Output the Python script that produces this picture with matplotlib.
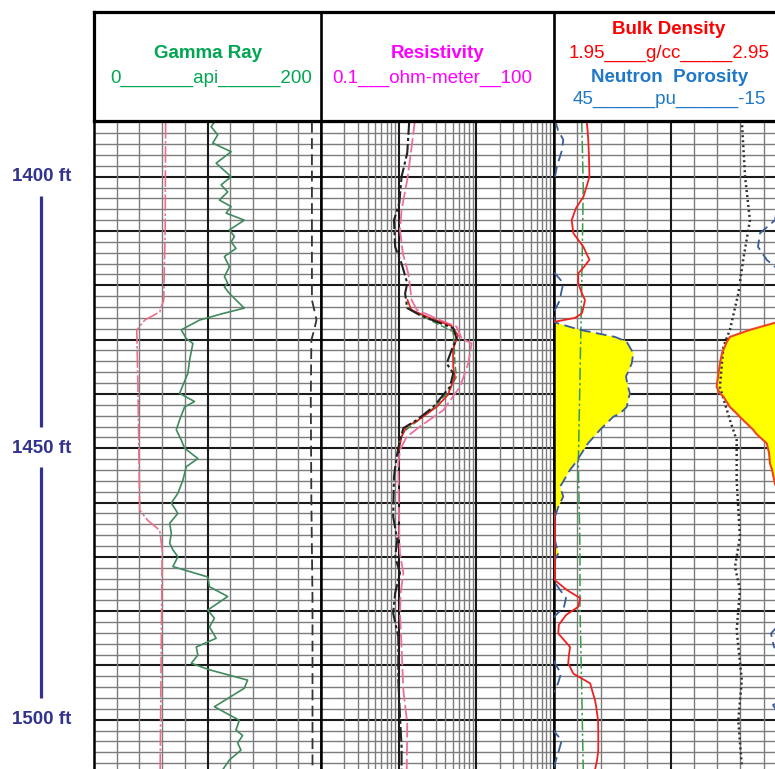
import numpy as np
import matplotlib.pyplot as plt

plt.rcParams['font.family'] = ['Liberation Sans', 'DejaVu Sans']

# ---------------- track 1: gamma ray, SP, caliper ----------------
gr_depth = [1389.9, 1390.8, 1392.3, 1393.8, 1395.4, 1397.5, 1400.0, 1401.5, 1402.8, 1404.3,
            1405.5, 1406.7, 1408.0, 1409.8, 1411.0, 1412.0, 1413.2, 1414.7, 1416.6, 1418.4,
            1419.6, 1420.3, 1421.5, 1424.2, 1425.2, 1426.4, 1428.2, 1429.8, 1430.7, 1433.8,
            1436.2, 1439.9, 1441.4, 1442.4, 1444.8, 1446.6, 1448.5, 1450.0, 1451.9, 1453.4,
            1455.9, 1458.3, 1460.1, 1462.0, 1463.8, 1465.7, 1467.5, 1468.7, 1470.0, 1471.8,
            1473.7, 1475.5, 1477.3, 1479.8, 1481.3, 1482.9, 1485.0, 1486.6, 1488.1, 1489.6,
            1490.8, 1492.7, 1494.2, 1497.6, 1500.1, 1501.9, 1502.9, 1504.3, 1505.6, 1507.4,
            1509.2]
gr_api = [106.1, 103.2, 109.0, 104.6, 120.8, 107.6, 120.8, 112.0, 117.8, 110.5,
          120.8, 116.4, 132.4, 119.3, 123.7, 120.8, 125.1, 114.9, 119.3, 114.9,
          117.8, 114.9, 119.3, 132.4, 113.4, 93.0, 76.9, 81.3, 87.1, 84.2,
          82.7, 75.4, 88.6, 79.8, 75.4, 72.5, 76.9, 79.8, 91.5, 81.3,
          78.3, 73.9, 68.1, 73.9, 66.7, 68.1, 66.7, 69.5, 73.9, 69.5,
          100.2, 101.7, 117.8, 100.2, 106.1, 101.7, 107.6, 90.1, 91.5, 85.7,
          101.7, 135.3, 132.4, 106.1, 128.0, 125.1, 130.9, 126.6, 129.5, 119.3,
          113.4]

sp_depth = [1389.9, 1409.8, 1422.7, 1424.9, 1426.4, 1428.2, 1441.1, 1461.4, 1463.3, 1465.1,
            1468.8, 1487.2, 1509.1]
sp_val = [63.1, 62.7, 61.4, 57.9, 44.7, 37.7, 38.9, 40.3, 47.4, 57.9,
          60.1, 59.2, 58.3]

cal_depth = [1389.9, 1422.7, 1424.9, 1426.4, 1428.2, 1430.1, 1441.1, 1459.5, 1477.9, 1509.1]
cal_val = [192.0, 192.0, 194.5, 196.0, 194.0, 191.5, 191.0, 191.5, 192.5, 192.5]

# ---------------- track 2: resistivity (ohm-m) ----------------
rdeep_depth = [1389.6, 1395.6, 1400.0, 1404.8, 1408.0, 1412.9, 1416.0, 1419.6, 1421.5, 1424.2,
               1425.5, 1426.7, 1427.9, 1429.8, 1431.9, 1434.4, 1436.2, 1438.7, 1442.4, 1444.8,
               1446.3, 1448.5, 1451.6, 1455.2, 1462.6, 1466.9, 1470.0, 1473.0, 1476.7, 1480.4,
               1484.7, 1492.7, 1499.4, 1505.0, 1509.2]
rdeep = [1.37, 1.29, 1.09, 1.02, 0.87, 0.90, 1.09, 1.29, 1.21, 1.29,
         1.88, 3.08, 5.04, 5.57, 4.81, 4.15, 5.04, 4.57, 2.79, 1.71,
         1.15, 1.04, 0.94, 0.87, 0.85, 0.96, 0.90, 1.04, 0.90, 0.85,
         0.99, 0.99, 1.04, 1.09, 1.09]

rshallow_depth = [1389.6, 1394.5, 1400.6, 1406.1, 1409.8, 1414.1, 1417.8, 1422.7, 1424.5, 1426.4,
                  1427.6, 1429.8, 1430.7, 1434.4, 1438.7, 1443.0, 1446.0, 1447.9, 1450.3, 1452.8,
                  1466.9, 1469.4, 1473.0, 1476.7, 1480.4, 1486.6, 1494.6, 1500.7, 1509.2]
rshallow = [1.62, 1.47, 1.29, 1.09, 1.04, 1.13, 1.33, 1.47, 1.71, 3.40,
            5.57, 6.47, 8.70, 7.87, 6.15, 3.75, 1.88, 1.27, 1.04, 0.99,
            1.02, 1.04, 1.15, 1.06, 1.04, 1.09, 1.15, 1.29, 1.27]

rmed_depth = [1422.7, 1424.5, 1426.0, 1427.5, 1429.2, 1431.9, 1435.0, 1436.8, 1440.2, 1442.4,
              1444.8, 1446.0, 1447.9, 1450.5]
rmed = [1.30, 1.45, 2.5, 4.8, 5.8, 5.0, 5.04, 5.30, 4.3, 3.08,
        1.8, 1.27, 1.09, 1.0]

rxo_depth = [1424.0, 1426.5, 1428.5, 1431.0, 1434.4, 1436.8, 1439.5, 1442.4, 1445.0, 1447.0, 1449.0]
rxo = [1.28, 2.6, 5.0, 5.2, 5.3, 5.57, 4.4, 2.9, 1.75, 1.15, 1.0]

# ---------------- track 3: density / neutron ----------------
nd_depth = [1389.6, 1391.4, 1393.2, 1395.1, 1396.3, 1398.0, 1400.0, 1401.5, 1403.7, 1405.8,
            1408.0, 1410.4, 1412.9, 1415.3, 1416.6, 1417.8, 1419.6, 1421.5, 1422.7, 1424.5,
            1425.2, 1426.0, 1426.7, 1426.9, 1428.2, 1429.5, 1430.4, 1432.5, 1434.4, 1436.8,
            1438.7, 1439.9, 1440.5, 1442.4, 1443.6, 1444.2, 1446.6, 1447.3, 1449.1, 1450.9,
            1452.8, 1454.0, 1456.5, 1457.1, 1458.9, 1460.8, 1462.6, 1465.0, 1467.8, 1469.3,
            1470.9, 1474.3, 1476.1, 1477.6, 1479.2, 1480.7, 1482.5, 1484.1, 1486.6, 1488.1,
            1489.6, 1491.5, 1493.3, 1494.5, 1496.4, 1497.3, 1500.1, 1501.9, 1503.8, 1505.6,
            1507.4, 1509.2]
rhob = [2.090, 2.094, 2.097, 2.099, 2.100, 2.101, 2.102, 2.092, 2.076, 2.044,
        2.026, 2.033, 2.076, 2.102, 2.079, 2.054, 2.054, 2.070, 2.083, 2.074,
        2.069, 2.040, 1.954, 1.898, 1.791, 1.705, 1.692, 1.671, 1.662, 1.654,
        1.648, 1.662, 1.677, 1.705, 1.734, 1.747, 1.805, 1.817, 1.863, 1.873,
        1.877, 1.886, 1.898, 1.903, 1.924, 1.946, 1.952, 1.954, 1.952, 1.950,
        1.954, 1.954, 2.005, 2.062, 2.054, 2.002, 1.971, 1.968, 2.019, 2.014,
        2.011, 2.033, 2.105, 2.113, 2.126, 2.130, 2.139, 2.140, 2.140, 2.140,
        2.135, 2.126]
nphi = [44.74, 43.97, 42.61, 42.94, 43.45, 44.23, 44.74, 46.03, 47.06, 47.58,
        48.09, 51.95, 52.47, 50.23, 48.09, 44.74, 42.61, 43.20, 43.45, 44.74,
        44.87, 45.00, 45.00, 44.48, 38.30, 29.29, 26.28, 24.58, 24.99, 26.46,
        25.94, 25.43, 25.69, 26.28, 28.00, 29.73, 33.15, 34.00, 36.24, 37.87,
        39.59, 40.88, 42.94, 43.45, 42.61, 43.89, 44.74, 45.26, 44.48, 43.84,
        45.00, 45.18, 43.45, 41.91, 42.42, 44.48, 47.06, 49.12, 48.35, 45.26,
        44.74, 43.20, 43.97, 44.74, 46.29, 48.61, 46.03, 45.26, 43.02, 43.71,
        44.48, 45.26]

pe_depth = [1389.6, 1401.9, 1420.3, 1430.1, 1452.8, 1468.8, 1479.2, 1494.6, 1509.2]
pe = [2.38, 2.51, 2.38, 2.29, 2.09, 2.23, 2.23, 2.38, 2.51]

dt_depth = [1389.6, 1400.0, 1408.0, 1415.3, 1421.5, 1428.2, 1431.3, 1438.7, 1444.8, 1448.5,
            1455.9, 1466.3, 1471.8, 1476.1, 1483.5, 1492.7, 1500.1, 1508.6]
dt = [59.4, 58.0, 55.9, 58.8, 60.9, 64.5, 67.3, 68.8, 64.5, 61.6,
      61.6, 60.2, 62.3, 60.2, 61.6, 59.4, 60.9, 59.4]

depth_marks = [1400, 1450, 1500]
top_depth, bottom_depth = 1389.74, 1509.07

W, H = 775, 769
fig = plt.figure(figsize=(W / 100, H / 100), dpi=100)
fig.patch.set_facecolor('white')


def px_axes(x0, y0, x1, y1):
    return fig.add_axes([x0 / W, 1 - y1 / H, (x1 - x0) / W, (y1 - y0) / H])


def frac(v, lo, hi):
    return (np.asarray(v, dtype=float) - lo) / (hi - lo)


THIN = dict(color='#7c7c7c', lw=1.0, zorder=1)
THICK = dict(color='#1a1a1a', lw=1.5, zorder=1)


def depth_grid(ax):
    for d in np.arange(1390, 1510, 2):
        ax.axhline(d, **(THICK if d % 10 == 0 else THIN))


def style_track(ax):
    ax.set_ylim(bottom_depth, top_depth)
    ax.set_xticks([])
    ax.set_yticks([])
    for s in ('top', 'bottom'):
        ax.spines[s].set_visible(False)
    for s in ('left', 'right'):
        ax.spines[s].set_linewidth(1.8)
    depth_grid(ax)


# track 1
ax1 = px_axes(94, 121, 321, 769)
ax1.set_xlim(0, 200)
style_track(ax1)
for i, x in enumerate(np.linspace(0, 200, 11)[1:-1]):
    ax1.axvline(x, **(THICK if i == 4 else THIN))
ax1.plot(sp_val, sp_depth, color='#e8708a', lw=1.2, ls=(0, (10, 1.5, 1.5, 1.5)), zorder=3)
ax1.plot(gr_api, gr_depth, color='#3f8a5e', lw=1.2, zorder=3)
ax1.plot(cal_val, cal_depth, color='#333333', lw=1.3, ls=(0, (6, 3)), zorder=3)

# track 2
ax2 = px_axes(321, 121, 554, 769)
ax2.set_xscale('log')
ax2.set_xlim(0.1, 100)
style_track(ax2)
ax2.minorticks_off()
for dec in (0.1, 1, 10):
    for m in range(1, 10):
        v = dec * m
        if v <= 0.1:
            continue
        ax2.axvline(v, **(THICK if m == 1 else THIN))
ax2.plot(rshallow, rshallow_depth, color='#ec6fa0', lw=1.3, ls=(0, (8, 2)), zorder=3)
ax2.plot(rxo, rxo_depth, color='#3c8c46', lw=1.0, ls=(0, (5, 2)), zorder=3)
ax2.plot(rmed, rmed_depth, color='#e82020', lw=1.2, zorder=3)
ax2.plot(rdeep, rdeep_depth, color='#222222', lw=1.5, ls=(0, (7, 1.5, 1.5, 1.5)), zorder=4)

# track 3
ax3 = px_axes(554, 121, 787, 769)
ax3.set_xlim(0, 1)
style_track(ax3)
for i, x in enumerate(np.linspace(0, 1, 11)[1:-1]):
    ax3.axvline(x, **(THICK if i == 4 else THIN))
rho_f = frac(rhob, 1.95, 2.95)
nphi_f = frac(nphi, 45, -15)
ax3.fill_betweenx(nd_depth, rho_f, nphi_f, where=nphi_f > rho_f, interpolate=True,
                  color='#ffff00', lw=0, zorder=2)
ax3.fill_betweenx(nd_depth, rho_f + 1, 1.0, where=rho_f < 0, interpolate=True,
                  color='#ffff00', lw=0, zorder=2)
ax3.plot(frac(pe, 0, 20), pe_depth, color='#3a9a4a', lw=1.1, ls=(0, (8, 2, 1.5, 2)), zorder=3)
ax3.plot(frac(dt, 140, 40), dt_depth, color='#333333', lw=1.8, ls=(0, (0.8, 1.2)), zorder=3)
ax3.plot(nphi_f, nd_depth, color='#3b5c9a', lw=1.3, ls=(0, (6, 3)), zorder=3)
ax3.plot(nphi_f + 1, nd_depth, color='#3b5c9a', lw=1.3, ls=(0, (6, 3)), zorder=3)
ax3.plot(rho_f, nd_depth, color='#ee2222', lw=1.3, zorder=4)
ax3.plot(rho_f + 1, nd_depth, color='#ee4422', lw=1.5, zorder=4)

# depth labels
ax0 = px_axes(0, 121, 94, 769)
ax0.set_ylim(bottom_depth, top_depth)
ax0.set_xlim(0, 94)
ax0.axis('off')
navy = '#32328f'
for d in depth_marks:
    ax0.text(42, d, f'{d} ft', ha='center', va='center', fontsize=13.5,
             fontweight='bold', color=navy)
for a, b in zip(depth_marks[:-1], depth_marks[1:]):
    ax0.plot([41, 41], [a + 3.5, b - 4.0], color=navy, lw=2.3, solid_capstyle='butt')

# header
axh = px_axes(94, 12, 787, 121)
axh.set_xlim(94, 787)
axh.set_ylim(121, 12)
axh.set_xticks([])
axh.set_yticks([])
for s in axh.spines.values():
    s.set_linewidth(2.3)
for x in (321, 554):
    axh.axvline(x, color='black', lw=1.9)

hdr = dict(ha='center', va='center', fontsize=13.5)
axh.text(208, 53, 'Gamma Ray', color='#00a651', fontweight='bold', **hdr)
axh.text(211, 78, '0_______api______200', color='#00a651', **hdr)
axh.text(438, 53, 'Resistivity', color='#ff00ff', fontweight='bold', **hdr)
axh.text(432, 78, '0.1___ohm-meter__100', color='#ff00ff', **hdr)
axh.text(669, 30, 'Bulk Density', color='#ff0000', fontweight='bold', **hdr)
axh.text(669, 53, '1.95____g/cc_____2.95', color='#ff0000', **hdr)
axh.text(670, 77, 'Neutron  Porosity', color='#1f78c8', fontweight='bold', **hdr)
axh.text(669.5, 99, '45______pu______-15', color='#1f78c8', **hdr)

fig.savefig('out.png', dpi=100)
